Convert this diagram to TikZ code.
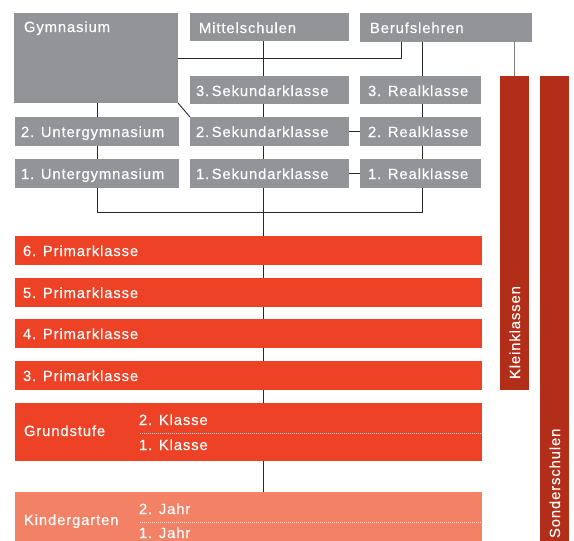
\documentclass[tikz,border=0pt]{standalone}
\usepackage{fontspec}
\setmainfont{Liberation Sans}[LetterSpace=6,FakeBold=0.3]
\usetikzlibrary{backgrounds}
\definecolor{bgray}{HTML}{939498}
\definecolor{bred}{HTML}{EE4226}
\definecolor{dred}{HTML}{B22E18}
\definecolor{salmon}{HTML}{F38166}
\definecolor{conncol}{HTML}{2A2A2A}
\begin{document}
\begin{tikzpicture}[x=1pt,y=-1pt,
  box/.style={draw=none,inner sep=0pt,outer sep=0pt,anchor=north west},
  graybox/.style={box,fill=bgray},
  redbox/.style={box,fill=bred},
  darkbar/.style={box,fill=dred},
  kgbox/.style={box,fill=salmon},
  lbl/.style={inner sep=0pt,outer sep=0pt,text=white,font=\fontsize{14.8}{16}\selectfont},
  conn/.style={draw=conncol,line width=0.9pt},
  gconn/.style={draw=bgray!85!black,line width=1.6pt},
  dotline/.style={draw=white,opacity=0.75,line width=0.9pt,dash pattern=on 1.1pt off 0.9pt}]
\useasboundingbox (0,0) rectangle (574,541);
% helper coordinates
\coordinate (cx) at (263,0);
\coordinate (lx) at (97,212);
\coordinate (rx) at (422,212);
\coordinate (bx) at (401,0);
% gray boxes
\node[graybox,minimum width=164pt,minimum height=90pt] (gym) at (14,13) {};
\node[graybox,minimum width=159pt,minimum height=28pt] (mit) at (190,13) {};
\node[graybox,minimum width=172pt,minimum height=29pt] (beruf) at (360,13) {};
\node[graybox,minimum width=159pt,minimum height=28pt] (sek3) at (190,76) {};
\node[graybox,minimum width=121pt,minimum height=28pt] (real3) at (360,76) {};
\node[graybox,minimum width=164pt,minimum height=29pt] (ug2) at (15,117) {};
\node[graybox,minimum width=159pt,minimum height=29pt] (sek2) at (190,117) {};
\node[graybox,minimum width=121pt,minimum height=29pt] (real2) at (360,117) {};
\node[graybox,minimum width=164pt,minimum height=29pt] (ug1) at (15,159) {};
\node[graybox,minimum width=159pt,minimum height=29pt] (sek1) at (190,159) {};
\node[graybox,minimum width=121pt,minimum height=29pt] (real1) at (360,159) {};
% red boxes
\node[redbox,minimum width=467pt,minimum height=29pt] (p6) at (15,236) {};
\node[redbox,minimum width=467pt,minimum height=29pt] (p5) at (15,278) {};
\node[redbox,minimum width=467pt,minimum height=29pt] (p4) at (15,319) {};
\node[redbox,minimum width=467pt,minimum height=29pt] (p3) at (15,361) {};
\node[redbox,minimum width=467pt,minimum height=58pt] (grund) at (15,403) {};
\node[kgbox,minimum width=467pt,minimum height=50pt] (kg) at (15,492) {};
% side bars
\node[darkbar,minimum width=29pt,minimum height=314pt] (klein) at (500,76) {};
\node[darkbar,minimum width=29pt,minimum height=466pt] (sonder) at (540,76) {};
% dotted separators
\coordinate (g0) at (140,433);
\coordinate (k0) at (140,522);
\draw[dotline] (g0) -- (g0 -| grund.east);
\draw[dotline] (k0) -- (k0 -| kg.east);
% connectors
\begin{scope}[on background layer]
\draw[conn] (mit.south -| cx) -- (kg.north -| cx);
\draw[conn] (gym.south -| lx) -- (lx) -- (rx) -- (beruf.south -| rx);
\draw[conn] (gym.east) -| (beruf.south -| bx);
\draw[conn] (gym.south east) -- (sek2.north west);
\draw[conn] (sek2.east) -- (real2.west);
\draw[conn] (sek1.east) -- (real1.west);
\draw[gconn] (beruf.south -| klein.north) -- (klein.north);
\end{scope}
% labels
\node[lbl,anchor=base west] (tgym) at (24,32) {Gymnasium};
\node[lbl,anchor=base west] (tmit) at (199,33) {Mittelschulen};
\node[lbl,anchor=base west] (tber) at (370,33) {Berufslehren};
\node[lbl,anchor=base west] (tsek3) at (196,96) {3.\hspace{2.5pt}Sekundarklasse};
\node[lbl,anchor=base west] (treal3) at (368,96) {3. Realklasse};
\node[lbl,anchor=base west] (tug2) at (21,137) {2. Untergymnasium};
\node[lbl,anchor=base west] (tsek2) at (196,137) {2.\hspace{2.5pt}Sekundarklasse};
\node[lbl,anchor=base west] (treal2) at (368,137) {2. Realklasse};
\node[lbl,anchor=base west] (tug1) at (21,179) {1. Untergymnasium};
\node[lbl,anchor=base west] (tsek1) at (196,179) {1.\hspace{2.5pt}Sekundarklasse};
\node[lbl,anchor=base west] (treal1) at (368,179) {1. Realklasse};
\node[lbl,anchor=base west] (tp6) at (23,256) {6. Primarklasse};
\node[lbl,anchor=base west] (tp5) at (23,298) {5. Primarklasse};
\node[lbl,anchor=base west] (tp4) at (23,339) {4. Primarklasse};
\node[lbl,anchor=base west] (tp3) at (23,381) {3. Primarklasse};
\node[lbl,anchor=base west] (tgr) at (24,436) {Grundstufe};
\node[lbl,anchor=base west] (tk2) at (139,425) {2. Klasse};
\node[lbl,anchor=base west] (tk1) at (139,450) {1. Klasse};
\node[lbl,anchor=base west] (tkg) at (24,525) {Kindergarten};
\node[lbl,anchor=base west] (tj2) at (139,514) {2. Jahr};
\node[lbl,anchor=base west] (tj1) at (139,538) {1. Jahr};
\node[lbl,anchor=base west,rotate=90] (tklein) at (520,379) {Kleinklassen};
\node[lbl,anchor=base west,rotate=90] (tsonder) at (560,538) {Sonderschulen};
\end{tikzpicture}
\end{document}
